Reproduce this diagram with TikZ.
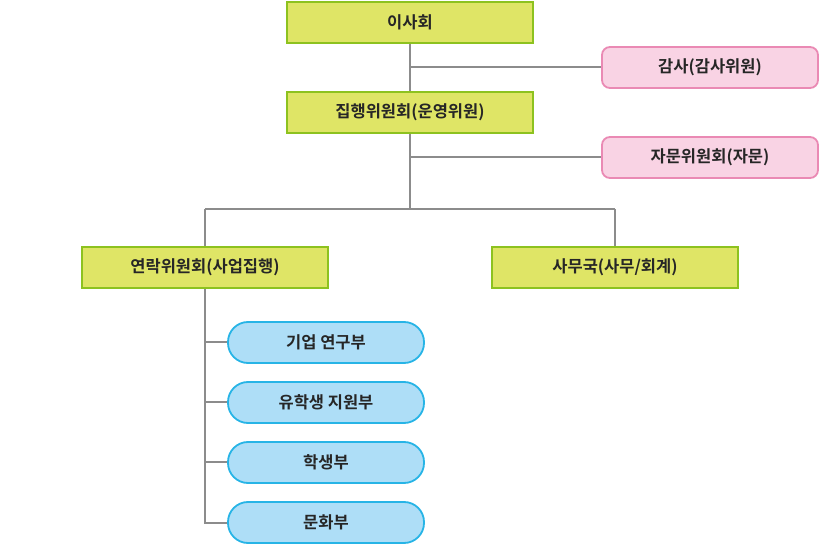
\documentclass[tikz,border=0pt]{standalone}
\usepackage{fontspec}
\usetikzlibrary{backgrounds}
\setmainfont{Noto Sans CJK KR}[BoldFont={Noto Sans CJK KR Bold}]
\definecolor{gfill}{HTML}{DFE566}
\definecolor{gline}{HTML}{8DC21F}
\definecolor{pfill}{HTML}{F9D3E4}
\definecolor{pline}{HTML}{EA8AB4}
\definecolor{bfill}{HTML}{AEDEF7}
\definecolor{bline}{HTML}{27B4E6}
\definecolor{conn}{HTML}{8C8C8C}
\begin{document}
\begin{tikzpicture}[x=1pt,y=-1pt,
  every node/.style={font=\fontsize{16.5}{18}\selectfont\bfseries, text=black!85, inner sep=0pt},
  gbox/.style={draw=gline, fill=gfill, line width=1.8pt, minimum width=246pt, minimum height=41pt},
  pbox/.style={draw=pline, fill=pfill, line width=1.8pt, rounded corners=8pt, minimum width=216pt, minimum height=41pt},
  bbox/.style={draw=bline, fill=bfill, line width=1.8pt, rounded corners=20pt, minimum width=196pt, minimum height=41pt},
  link/.style={draw=conn, line width=2pt}]
\useasboundingbox (0,0) rectangle (820,545);
\node[gbox] (board) at (410,22.5) {이사회};
\node[pbox] (audit) at (710,67.5) {감사(감사위원)};
\node[gbox] (exec) at (410,112.5) {집행위원회(운영위원)};
\node[pbox] (advise) at (710,157.5) {자문위원회(자문)};
\node[gbox] (liaison) at (205,267.5) {연락위원회(사업집행)};
\node[gbox] (office) at (615,267.5) {사무국(사무/회계)};
\node[bbox] (d1) at (326,342.5) {기업 연구부};
\node[bbox] (d2) at (326,402.5) {유학생 지원부};
\node[bbox] (d3) at (326,462.5) {학생부};
\node[bbox] (d4) at (326,522.5) {문화부};
\coordinate (j3) at (410,209);
\begin{scope}[on background layer]
\draw[link] (board) -- (exec);
\draw[link] (board.south |- audit.west) -- (audit.west);
\draw[link] (exec) -- (j3);
\draw[link] (exec.south |- advise.west) -- (advise.west);
\draw[link] (liaison.north |- j3) -- (office.north |- j3);
\draw[link] (liaison.north |- j3) -- (liaison);
\draw[link] (office.north |- j3) -- (office);
\draw[link] (liaison) |- (d4.west);
\draw[link] (liaison.south |- d1.west) -- (d1.west);
\draw[link] (liaison.south |- d2.west) -- (d2.west);
\draw[link] (liaison.south |- d3.west) -- (d3.west);
\end{scope}
\end{tikzpicture}
\end{document}
